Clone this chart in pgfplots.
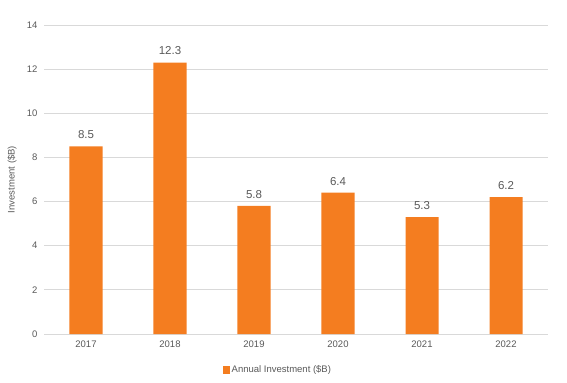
\documentclass[border=0pt]{standalone}
\usepackage{pgfplots}
\pgfplotsset{compat=1.18}
\usepackage{fontspec}
\setmainfont{Liberation Sans}
\definecolor{barorange}{RGB}{244,125,32}
\definecolor{txtgray}{RGB}{89,89,89}
\definecolor{gridgray}{RGB}{217,217,217}
\begin{document}
\begin{tikzpicture}
\path (-44bp,-49bp) rectangle (523bp,334bp);
\begin{axis}[
  at={(0,0)}, anchor=south west,
  scale only axis, width=504bp, height=309bp,
  xmin=-0.5, xmax=5.5, ymin=0, ymax=14,
  ytick={0,2,...,14},
  xtick={0,1,2,3,4,5},
  xticklabels={2017,2018,2019,2020,2021,2022},
  /pgf/number format/assume math mode=true,
  tick label style={font=\fontsize{9.5bp}{11bp}\selectfont, text=txtgray},
  ymajorgrids, grid style={gridgray, line width=0.75bp},
  axis line style={draw=none},
  axis x line*=bottom,
  x axis line style={draw=gridgray, line width=0.75bp},
  major tick length=0pt,
  yticklabel style={xshift=-3bp},
  xticklabel style={yshift=-3bp},
  ybar, bar width=33bp,
  nodes near coords,
  nodes near coords style={font=\fontsize{11.5bp}{13bp}\selectfont, text=txtgray, yshift=4bp, /pgf/number format/.cd, fixed, precision=1, assume math mode=true},
  legend style={at={(axis description cs:0.464,-0.1165)}, anchor=center, draw=none, font=\fontsize{9.5bp}{11bp}\selectfont, text=txtgray, inner sep=0pt},
  legend image code/.code={\fill[barorange] (0bp,-3.5bp) rectangle (7bp,3.5bp);},
  legend cell align=left,
]
\addplot[fill=barorange, draw=none] coordinates {(0,8.5) (1,12.3) (2,5.8) (3,6.4) (4,5.3) (5,6.2)};
\addlegendentry{Annual Investment (\$B)}
\end{axis}
\node[rotate=90, text=txtgray, font=\fontsize{9.5bp}{11bp}\selectfont] at (-32bp,154.5bp) {Investment (\$B)};
\end{tikzpicture}
\end{document}
